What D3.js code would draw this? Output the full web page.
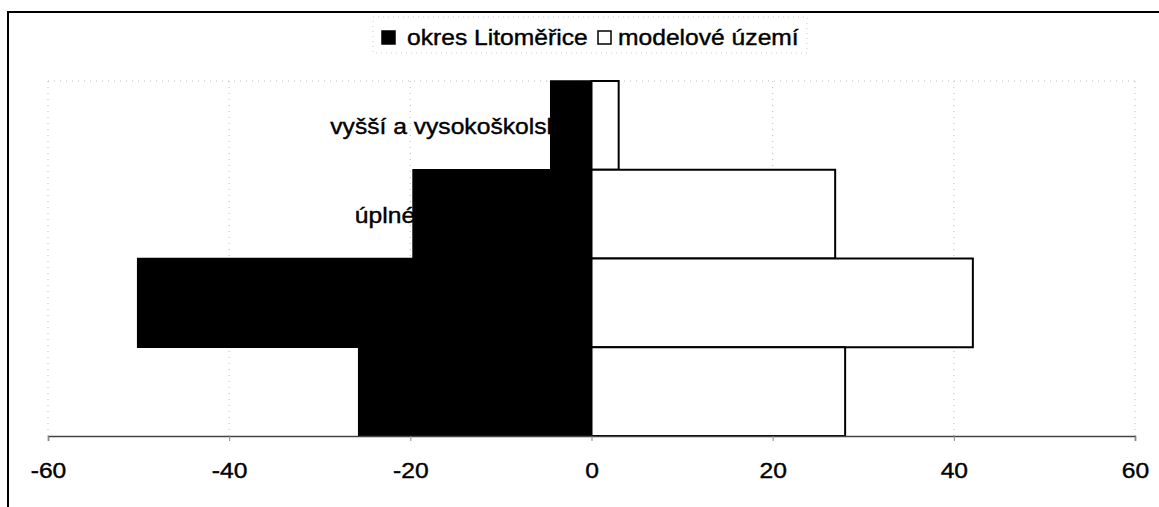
<!DOCTYPE html>
<html>
<head>
<meta charset="utf-8">
<script src="https://cdn.jsdelivr.net/npm/d3@7"></script>
<style>
  body { margin: 0; background: #fff; }
  text { font-family: "Liberation Sans", Arial, sans-serif; fill: #000; }
</style>
</head>
<body>
<div id="chart"></div>
<script>
// Categories (top to bottom) and series values in %
const categories = ["vyšší a vysokoškolské", "úplné středoškolské", "vyučení", "základní"];
const okres = [4.5, 19.7, 50.1, 25.7];      // drawn to the left
const modelove = [3.0, 26.9, 42.1, 28.0];   // drawn to the right
const ticks = [-60, -40, -20, 0, 20, 40, 60];
const seriesNames = ["okres Litoměřice", "modelové území"];

// Size
var w = 1159;
var h = 507;
var stretch = 1.12; // the scanned text is a bit wider than Arial

var svg = d3.select("#chart")
    .append("svg")
    .attr("width", w)
    .attr("height", h);

// Outer chart frame (only left and top edge are in the picture)
svg.append("rect")
    .attr("x", 8)
    .attr("y", 12)
    .attr("width", w + 20)
    .attr("height", h + 20)
    .attr("fill", "none")
    .attr("stroke", "#000")
    .attr("stroke-width", 2);

// Scales
var x = d3.scaleLinear().domain([-60, 60]).range([48, 1135]);
var y = d3.scaleBand().domain(categories).range([81, 436]).padding(0);

// Gridlines
svg.append("g")
    .selectAll("line")
    .data(ticks)
    .join("line")
    .attr("x1", d => x(d))
    .attr("x2", d => x(d))
    .attr("y1", y.range()[0])
    .attr("y2", y.range()[1])
    .attr("stroke", "#bbb")
    .attr("stroke-width", 1)
    .attr("stroke-dasharray", "1,5");

svg.append("line")
    .attr("x1", x(-60))
    .attr("x2", x(60))
    .attr("y1", y.range()[0])
    .attr("y2", y.range()[0])
    .attr("stroke", "#bbb")
    .attr("stroke-dasharray", "1,5");

// Category labels (sit behind the bars)
function stretchedText(sel, tx, ty) {
    return sel.attr("transform", (d, i) => `translate(${tx(d, i)},${ty(d, i)}) scale(${stretch},1)`);
}

stretchedText(
    svg.append("g")
        .selectAll("text")
        .data(categories)
        .join("text")
        .attr("text-anchor", "end")
        .attr("dy", "0.35em")
        .style("font-size", "22px")
        .style("stroke", "#000")
        .style("stroke-width", 0.4)
        .text(d => d),
    d => x(0) - 19,
    d => y(d) + y.bandwidth() / 2 + 1
);

// Bars
svg.append("g")
    .selectAll("rect")
    .data(categories)
    .join("rect")
    .attr("x", (d, i) => x(-okres[i]))
    .attr("y", d => y(d))
    .attr("width", (d, i) => x(0) - x(-okres[i]))
    .attr("height", y.bandwidth())
    .attr("fill", "#000")
    .attr("stroke", "#000")
    .attr("stroke-width", 1.5);

svg.append("g")
    .selectAll("rect")
    .data(categories)
    .join("rect")
    .attr("x", x(0))
    .attr("y", d => y(d))
    .attr("width", (d, i) => x(modelove[i]) - x(0))
    .attr("height", y.bandwidth())
    .attr("fill", "#fff")
    .attr("stroke", "#000")
    .attr("stroke-width", 2);

// X axis
var axis = svg.append("g")
    .attr("transform", `translate(0,${y.range()[1]})`)
    .call(d3.axisBottom(x).tickValues(ticks).tickSize(5).tickFormat(d3.format("d")));

axis.select(".domain").attr("stroke", "#444").attr("stroke-width", 1.5);
axis.selectAll(".tick line").attr("stroke", "#888");
axis.selectAll(".tick text")
    .attr("y", 0)
    .attr("dy", 0)
    .attr("transform", `translate(0,42) scale(${stretch},1)`)
    .style("font-size", "22px")
    .style("font-family", "'Liberation Sans', Arial, sans-serif")
    .style("stroke", "#000")
    .style("stroke-width", 0.4)
    .text(d => d < 0 ? "-" + Math.abs(d) : d);

// Legend
var legend = svg.append("g");

legend.append("rect")
    .attr("x", 373)
    .attr("y", 17)
    .attr("width", 434)
    .attr("height", 36)
    .attr("fill", "#fff")
    .attr("stroke", "#ccc")
    .attr("stroke-dasharray", "1,4");

var items = legend.selectAll("g")
    .data(seriesNames)
    .join("g")
    .attr("transform", (d, i) => `translate(${i === 0 ? 382 : 598},31)`);

items.append("rect")
    .attr("width", 13)
    .attr("height", 13)
    .attr("fill", (d, i) => i === 0 ? "#000" : "#fff")
    .attr("stroke", "#000")
    .attr("stroke-width", 1.5);

stretchedText(
    items.append("text")
        .attr("dy", "0.35em")
        .style("font-size", "22px")
        .style("stroke", "#000")
        .style("stroke-width", 0.4)
        .text(d => d),
    (d, i) => i === 0 ? 25 : 20,
    d => 6
);
</script>
</body>
</html>
